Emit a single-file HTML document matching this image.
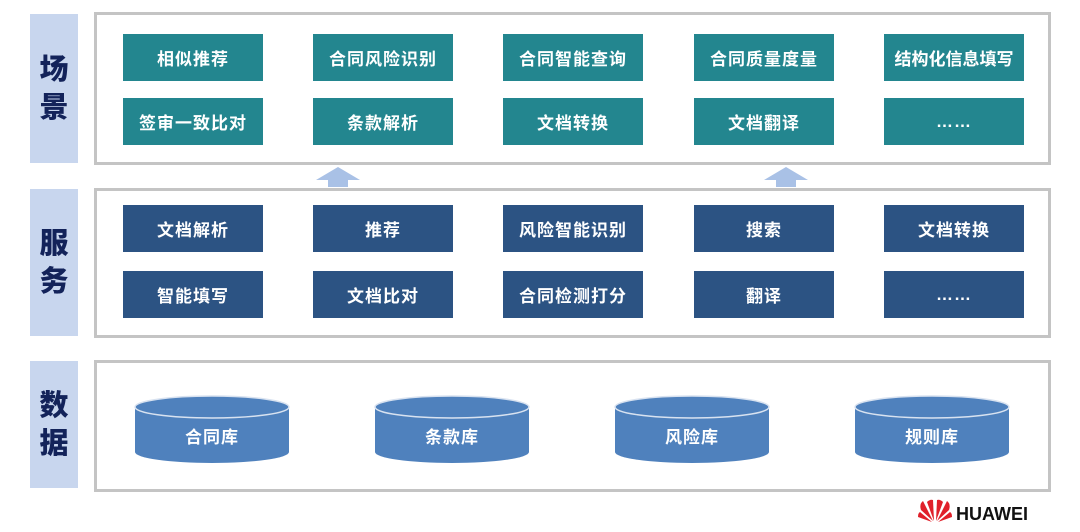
<!DOCTYPE html>
<html><head><meta charset="utf-8"><style>
body{margin:0;width:1080px;height:532px;background:#fff;position:relative;overflow:hidden;font-family:"Liberation Sans","Noto Sans CJK SC",sans-serif}
.lab{position:absolute;left:30px;width:48px;background:#c8d6ee;color:#13235a;font-weight:900;font-size:29px;display:flex;flex-direction:column;align-items:center;justify-content:center;line-height:38px}
.fr{position:absolute;left:94px;width:951px;border:3px solid #c4c4c4;background:#fff}
.b{position:absolute;width:140px;height:47px;color:#fff;font-weight:bold;font-size:17px;display:flex;align-items:center;justify-content:center;letter-spacing:1px}
.s{background:#23868f}.v{background:#2c5383}
</style></head><body>
<div class="lab" style="top:14px;height:149px">场<br>景</div>
<div class="lab" style="top:189px;height:147px">服<br>务</div>
<div class="lab" style="top:361px;height:127px">数<br>据</div>
<div class="fr" style="top:12px;height:147px"></div>
<div class="fr" style="top:188px;height:144px"></div>
<div class="fr" style="top:360px;height:126px"></div>

<div class="b s" style="left:123px;top:34px">相似推荐</div>
<div class="b s" style="left:313px;top:34px">合同风险识别</div>
<div class="b s" style="left:503px;top:34px">合同智能查询</div>
<div class="b s" style="left:694px;top:34px">合同质量度量</div>
<div class="b s" style="left:884px;top:34px;letter-spacing:0">结构化信息填写</div>
<div class="b s" style="left:123px;top:98px">签审一致比对</div>
<div class="b s" style="left:313px;top:98px">条款解析</div>
<div class="b s" style="left:503px;top:98px">文档转换</div>
<div class="b s" style="left:694px;top:98px">文档翻译</div>
<div class="b s" style="left:884px;top:98px">……</div>

<div class="b v" style="left:123px;top:205px">文档解析</div>
<div class="b v" style="left:313px;top:205px">推荐</div>
<div class="b v" style="left:503px;top:205px">风险智能识别</div>
<div class="b v" style="left:694px;top:205px">搜索</div>
<div class="b v" style="left:884px;top:205px">文档转换</div>
<div class="b v" style="left:123px;top:271px">智能填写</div>
<div class="b v" style="left:313px;top:271px">文档比对</div>
<div class="b v" style="left:503px;top:271px">合同检测打分</div>
<div class="b v" style="left:694px;top:271px">翻译</div>
<div class="b v" style="left:884px;top:271px">……</div>

<svg style="position:absolute;left:0;top:0" width="1080" height="532">
<polygon points="316,180 338,167 360,180 348,180 348,187 328,187 328,180" fill="#a9c1e6"/>
<polygon points="764,180 786,167 808,180 796,180 796,187 776,187 776,180" fill="#a9c1e6"/>
<g font-family="Liberation Sans,Noto Sans CJK SC,sans-serif" font-weight="bold" font-size="17" fill="#fff" text-anchor="middle" letter-spacing="1">
<g transform="translate(135,0)"><path d="M0,407 L0,452 A77,11 0 0 0 154,452 L154,407 Z" fill="#4f81bd"/><ellipse cx="77" cy="407" rx="77" ry="11" fill="#4f81bd" stroke="#d8e2f0" stroke-width="1.5"/><text x="77" y="443">合同库</text></g>
<g transform="translate(375,0)"><path d="M0,407 L0,452 A77,11 0 0 0 154,452 L154,407 Z" fill="#4f81bd"/><ellipse cx="77" cy="407" rx="77" ry="11" fill="#4f81bd" stroke="#d8e2f0" stroke-width="1.5"/><text x="77" y="443">条款库</text></g>
<g transform="translate(615,0)"><path d="M0,407 L0,452 A77,11 0 0 0 154,452 L154,407 Z" fill="#4f81bd"/><ellipse cx="77" cy="407" rx="77" ry="11" fill="#4f81bd" stroke="#d8e2f0" stroke-width="1.5"/><text x="77" y="443">风险库</text></g>
<g transform="translate(855,0)"><path d="M0,407 L0,452 A77,11 0 0 0 154,452 L154,407 Z" fill="#4f81bd"/><ellipse cx="77" cy="407" rx="77" ry="11" fill="#4f81bd" stroke="#d8e2f0" stroke-width="1.5"/><text x="77" y="443">规则库</text></g>
</g>
<g transform="translate(935,512)" fill="#e0202a">
<path d="M-2,9 L-14,-2 Q-16,-8 -12,-11 Z"/><path d="M2,9 L14,-2 Q16,-8 12,-11 Z"/>
<path d="M-1,9 L-8,-10 Q-5,-13 -2,-12 Z"/><path d="M1,9 L8,-10 Q5,-13 2,-12 Z"/>
<path d="M-3,10 L-17,5 Q-17,1 -15,0 Z"/><path d="M3,10 L17,5 Q17,1 15,0 Z"/>
</g>
<text x="956" y="520" font-family="Liberation Sans,sans-serif" font-weight="bold" font-size="18" fill="#111">HUAWEI</text>
</svg>
</body></html>
